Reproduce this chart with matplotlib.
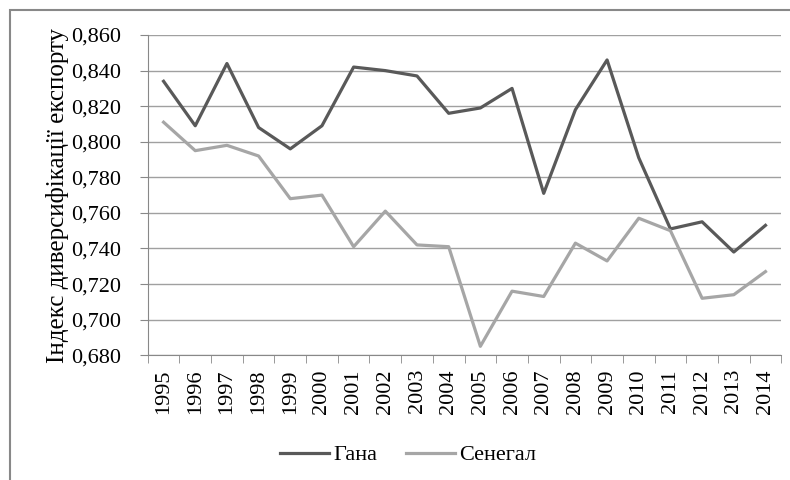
import numpy as np
import matplotlib.pyplot as plt
from matplotlib.patches import Rectangle

years = [str(y) for y in range(1995, 2015)]
ghana = [0.834, 0.809, 0.844, 0.808, 0.796, 0.809, 0.842, 0.840, 0.837, 0.816,
         0.819, 0.830, 0.771, 0.818, 0.846, 0.791, 0.751, 0.755, 0.738, 0.753]
senegal = [0.811, 0.795, 0.798, 0.792, 0.768, 0.770, 0.741, 0.761, 0.742, 0.741,
           0.685, 0.716, 0.713, 0.743, 0.733, 0.757, 0.750, 0.712, 0.714, 0.727]
yticks = np.arange(0.680, 0.8601, 0.020)

plt.rcParams['font.family'] = ['Liberation Serif', 'DejaVu Serif']
fig = plt.figure(figsize=(7.9, 4.8), dpi=100)
ax = fig.add_axes([0.187, 0.26, 0.802, 0.667])

x = np.arange(len(years))
ax.plot(x, ghana, color='#595959', lw=2.3, label='Гана', solid_joinstyle='round')
ax.plot(x, senegal, color='#a6a6a6', lw=2.3, label='Сенегал', solid_joinstyle='round')

ax.set_xlim(-0.5, len(years) - 0.5)
ax.set_ylim(0.680, 0.860)
ax.set_yticks(yticks)
ax.set_yticklabels(['{:.3f}'.format(v).replace('.', ',') for v in yticks], fontsize=16)
ax.set_xticks(x)
ax.set_xticklabels(years, rotation=90, fontsize=16)
ax.set_xticks(np.arange(-0.5, len(years)), minor=True)
ax.tick_params(axis='x', which='major', length=0, pad=10)
ax.tick_params(axis='x', which='minor', length=6, color='#888888')
ax.tick_params(axis='y', length=6, color='#888888', pad=13)
ax.yaxis.grid(True, color='#a0a0a0', lw=1)
ax.set_axisbelow(True)
for s in ['top', 'right']:
    ax.spines[s].set_visible(False)
for s in ['left', 'bottom']:
    ax.spines[s].set_color('#888888')
ax.set_ylabel('Індекс диверсифікації експорту', fontsize=18, labelpad=2)

fig.legend(loc='center', bbox_to_anchor=(408 / 790, 1 - 455 / 480), ncol=2,
           frameon=False, fontsize=16, handlelength=2.2, columnspacing=1.3,
           handletextpad=0.2)

fig.patches.append(Rectangle((10 / 790, -0.05), 1.0, 1 - 10 / 480 + 0.05,
                             transform=fig.transFigure, fill=False,
                             edgecolor='#888888', lw=1.5))

fig.savefig('out.png', dpi=100)
